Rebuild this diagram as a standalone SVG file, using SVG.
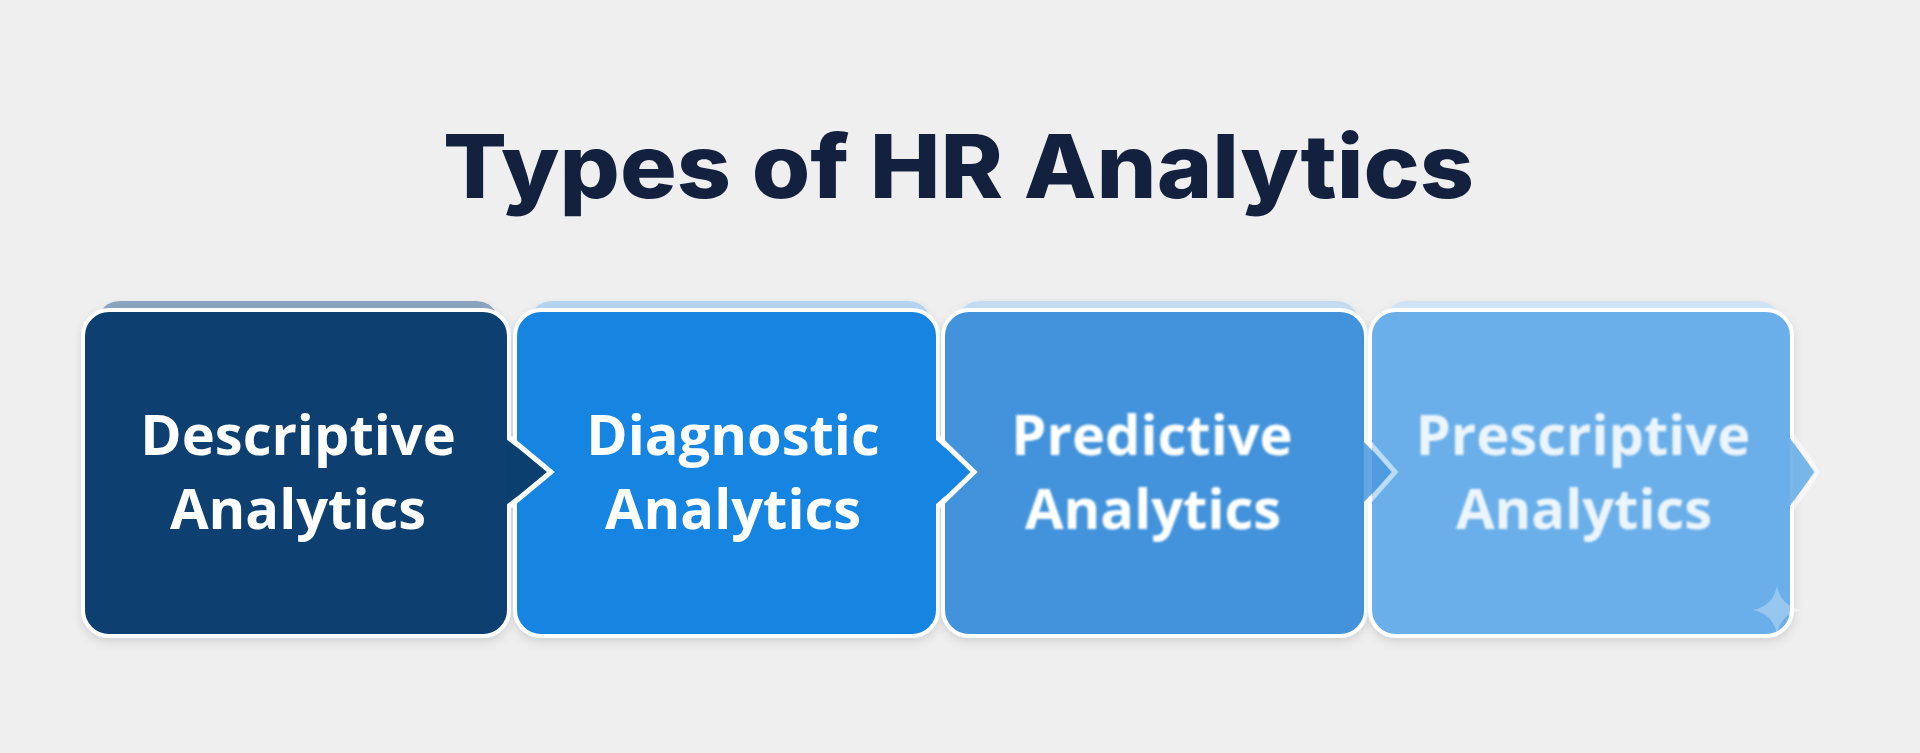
<svg xmlns="http://www.w3.org/2000/svg" width="1920" height="753" viewBox="0 0 1920 753">
<defs>
<style>
.title{font-family:Inter,"Liberation Sans",sans-serif;font-weight:800;font-size:88px;fill:#13213f}
.lbl{font-family:"Open Sans","Noto Sans","Liberation Sans",sans-serif;font-weight:700;font-size:56px;fill:#ffffff;text-anchor:middle}
.box{stroke:#ffffff;stroke-width:4}
.cap{stroke:none}
.edge{fill:none;stroke:#ffffff;stroke-width:5;stroke-linejoin:miter}
</style>
<filter id="sh" x="-10%" y="-10%" width="120%" height="130%">
<feDropShadow dx="0" dy="4" stdDeviation="5" flood-color="#000" flood-opacity="0.12"/>
</filter>
<filter id="soft" x="-10%" y="-30%" width="120%" height="160%">
<feGaussianBlur stdDeviation="0.8"/>
</filter>
</defs>
<rect width="1920" height="753" fill="#efefef"/>
<text class="title" x="443" y="198" textLength="1031" lengthAdjust="spacingAndGlyphs">Types of HR Analytics</text>

<g id="node-descriptive" filter="url(#sh)">
<rect class="cap" x="98" y="301" width="400" height="40" rx="22" fill="#8aa4c0"/>
<rect class="box" x="83" y="310" width="426" height="326" rx="26" fill="#0b3f70"/>
<text class="lbl" x="298" y="455">Descriptive</text>
<text class="lbl" x="298" y="529">Analytics</text>
</g>

<g id="node-diagnostic" filter="url(#sh)">
<rect class="cap" x="530" y="301" width="400" height="40" rx="22" fill="#b3d3ef"/>
<rect class="box" x="515" y="310" width="423" height="326" rx="26" fill="#1685e2"/>
<text class="lbl" x="733" y="455">Diagnostic</text>
<text class="lbl" x="733" y="529">Analytics</text>
</g>

<g id="node-predictive" filter="url(#sh)">
<rect class="cap" x="958" y="301" width="400" height="40" rx="22" fill="#c2dbf1"/>
<rect class="box" x="943" y="310" width="423" height="326" rx="26" fill="#4293db"/>
<g filter="url(#soft)">
<text class="lbl" x="1152" y="455">Predictive</text>
<text class="lbl" x="1153" y="529">Analytics</text>
</g>
</g>

<g id="node-prescriptive" filter="url(#sh)">
<rect class="cap" x="1385" y="301" width="395" height="40" rx="22" fill="#cfe3f5"/>
<rect class="box" x="1370" y="310" width="422" height="326" rx="26" fill="#6aafe9"/>
<g filter="url(#soft)" opacity="0.88">
<text class="lbl" x="1583" y="455">Prescriptive</text>
<text class="lbl" x="1584" y="529">Analytics</text>
</g>
<path d="M1777 586 Q1781 606 1801 610 Q1781 614 1777 634 Q1773 614 1753 610 Q1773 606 1777 586 Z" fill="#ffffff" opacity="0.3"/>
</g>

<g id="connectors">
<polygon points="506,439 549,472 506,505" fill="#0b3f70"/>
<polyline class="edge" points="510,438 551,472 510,506"/>
<polygon points="935,439 972,472 935,505" fill="#1685e2"/>
<polyline class="edge" points="939,438 974,472 939,506"/>
<polygon points="1363,441 1393,472 1363,503" fill="#4a98dd" opacity="0.85"/>
<polyline class="edge" points="1367,440 1395,472 1367,504" opacity="0.55"/>
<polygon points="1789,437 1815,472 1789,507" fill="#6aafe9" opacity="0.9"/>
<polyline class="edge" points="1793,436 1817,472 1793,508" opacity="0.5"/>
</g>
</svg>
